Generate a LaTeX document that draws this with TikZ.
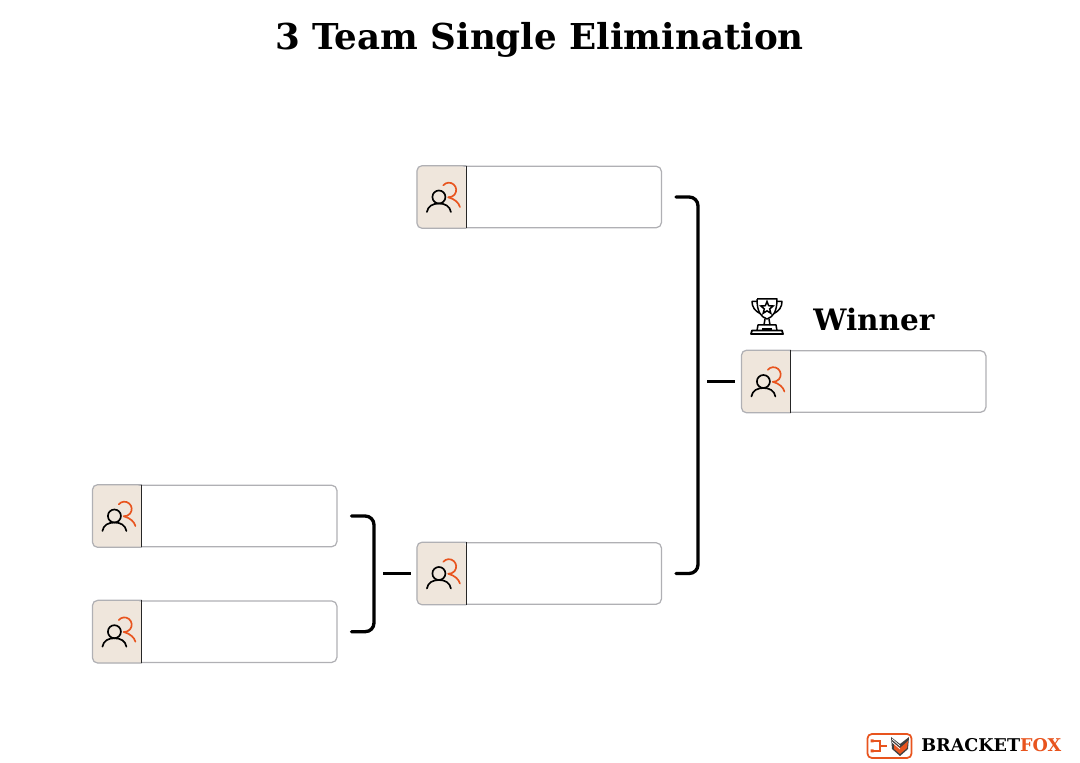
\documentclass[tikz,border=0pt]{standalone}
\usepackage{fontspec}
\setmainfont{DejaVu Serif}
\usetikzlibrary{arrows.meta, positioning, calc, shapes.geometric}
\definecolor{panelcolor}{HTML}{EFE6DC}
\definecolor{foxorange}{HTML}{E8541E}
\definecolor{slotgray}{HTML}{B0B0B4}

\begin{document}
\begin{tikzpicture}[
			x=0.02cm, y=-0.02cm,
			every node/.style={align=center},
			slot/.style={rectangle, draw=slotgray, fill=white, line width=0.7pt, rounded corners=3pt, minimum width=4.88cm, minimum height=1.23cm, inner sep=0pt},
			wire/.style={line width=1.9pt, line cap=round},
			bracket/.style={wire, rounded corners=5pt, shorten <=14*0.02cm, shorten >=14*0.02cm},
			tick/.style={wire, line cap=butt, shorten <=9*0.02cm, shorten >=6*0.02cm},
			person/.style={line width=0.95pt, line cap=round},
			cup/.style={line width=0.85pt, line join=round},
			people/.pic={
				\draw[person, foxorange] (26.4,-11.7) arc[start angle=-140, end angle=95, radius=7.3];
				\draw[person, foxorange] (31.4,0.3) .. controls (38,2) and (42,6) .. (43,10);
				\draw[person] (22,0) circle[radius=6.5];
				\draw[person] (10,15) .. controls (11,9) and (16,6.5) .. (22,6.5) .. controls (28,6.5) and (33,9) .. (34,15);
			},
			>=Stealth
			]
			\useasboundingbox (0,0) rectangle (1080,763);
			
			% Slots
			\node[slot] (first) at (215,516) {};
			\node[slot, below=1.06cm of first] (second) {};
			\node[slot] (semi) at (539.5,573.5) {};
			\node[slot] (top) at (539.5,197) {};
			\node[slot] (winner) at (864,381.5) {};
			
			% Icon panels
			\foreach \s in {first, second, semi, top, winner} {
				\fill[panelcolor, rounded corners=3pt] (\s.north west) -- ([xshift=0.99cm]\s.north west) [sharp corners] -- ([xshift=0.99cm]\s.south west) [rounded corners=3pt] -- (\s.south west) -- cycle;
				\draw[slotgray, line width=0.7pt, rounded corners=3pt] ([xshift=0.99cm]\s.north west) -- (\s.north west) -- (\s.south west) -- ([xshift=0.99cm]\s.south west);
				\draw[black!85, line width=0.6pt] ([xshift=0.99cm]\s.north west) -- ([xshift=0.99cm]\s.south west);
				\pic at (\s.west) {people};
			}
			
			% Brackets
			\coordinate (joinleft) at (374,573.5);
			\coordinate (joinright) at (698,381.5);
			\draw[bracket] (first.east) -| (joinleft) |- (second.east);
			\draw[bracket] (top.east) -| (joinright) |- (semi.east);
			\draw[tick] (joinleft) -- (semi.west);
			\draw[tick] (joinright) -- (winner.west);
			
			% Labels
			\node[font=\bfseries\fontsize{20.3}{25}\selectfont, anchor=base] (title) at (539.5,50) {3 Team Single Elimination};
			\node[font=\bfseries\fontsize{16.8}{22}\selectfont, anchor=base west, inner sep=0pt] (winnerlabel) at (813,331) {Winner};
			\node[font=\bfseries\fontsize{10}{11}\selectfont, anchor=base west, inner sep=0pt] (brand) at (921,752) {BRACKET\textcolor{foxorange}{FOX}};
			
			% Trophy
			\node[star, star points=5, star point ratio=2.3, draw, line width=0.85pt, minimum size=0.26cm, inner sep=0pt] (trophystar) at (767,308) {};
			\draw[cup] (757,299) -- (777,299) .. controls (777,312) and (773,317) .. (767,319) .. controls (761,317) and (757,312) .. (757,299);
			\draw[cup] (757,301.5) -- (752,301.5) .. controls (752,307) and (755,311) .. (760,313.5);
			\draw[cup] (777,301.5) -- (782,301.5) .. controls (782,307) and (779,311) .. (774,313.5);
			\draw[cup] (765,319) -- (764,325) (769,319) -- (770,325);
			\draw[cup] (757,330.5) -- (758,325) -- (776,325) -- (777,330.5);
			\draw[cup] (762,329) -- (772,329);
			\draw[line width=1pt, line join=round] (751,334) -- (752,330.5) -- (782,330.5) -- (783,334) -- cycle;
			
			% Logo
			\draw[foxorange, line width=1pt, rounded corners=2.5pt] (867.5,734) rectangle (911.5,758);
			\draw[foxorange, line width=0.7pt] (872,741) -- (880,741) -- (880,751) -- (872,751) (880,746) -- (887,746);
			\fill[foxorange] (870.5,739.5) rectangle (873.5,742.5) (870.5,749.5) rectangle (873.5,752.5);
			\fill[black!75] (891,737) -- (900,744) -- (909,737) -- (908,749) -- (900,756) -- (892,749) -- cycle;
			\fill[foxorange] (894,743.5) -- (900,748) -- (908,741) -- (907,748) -- (900,754) -- (894,749) -- cycle;
			\draw[white, line width=0.4pt] (892,739) -- (900,746) (892,742) -- (900,749);
		\end{tikzpicture}
\end{document}
